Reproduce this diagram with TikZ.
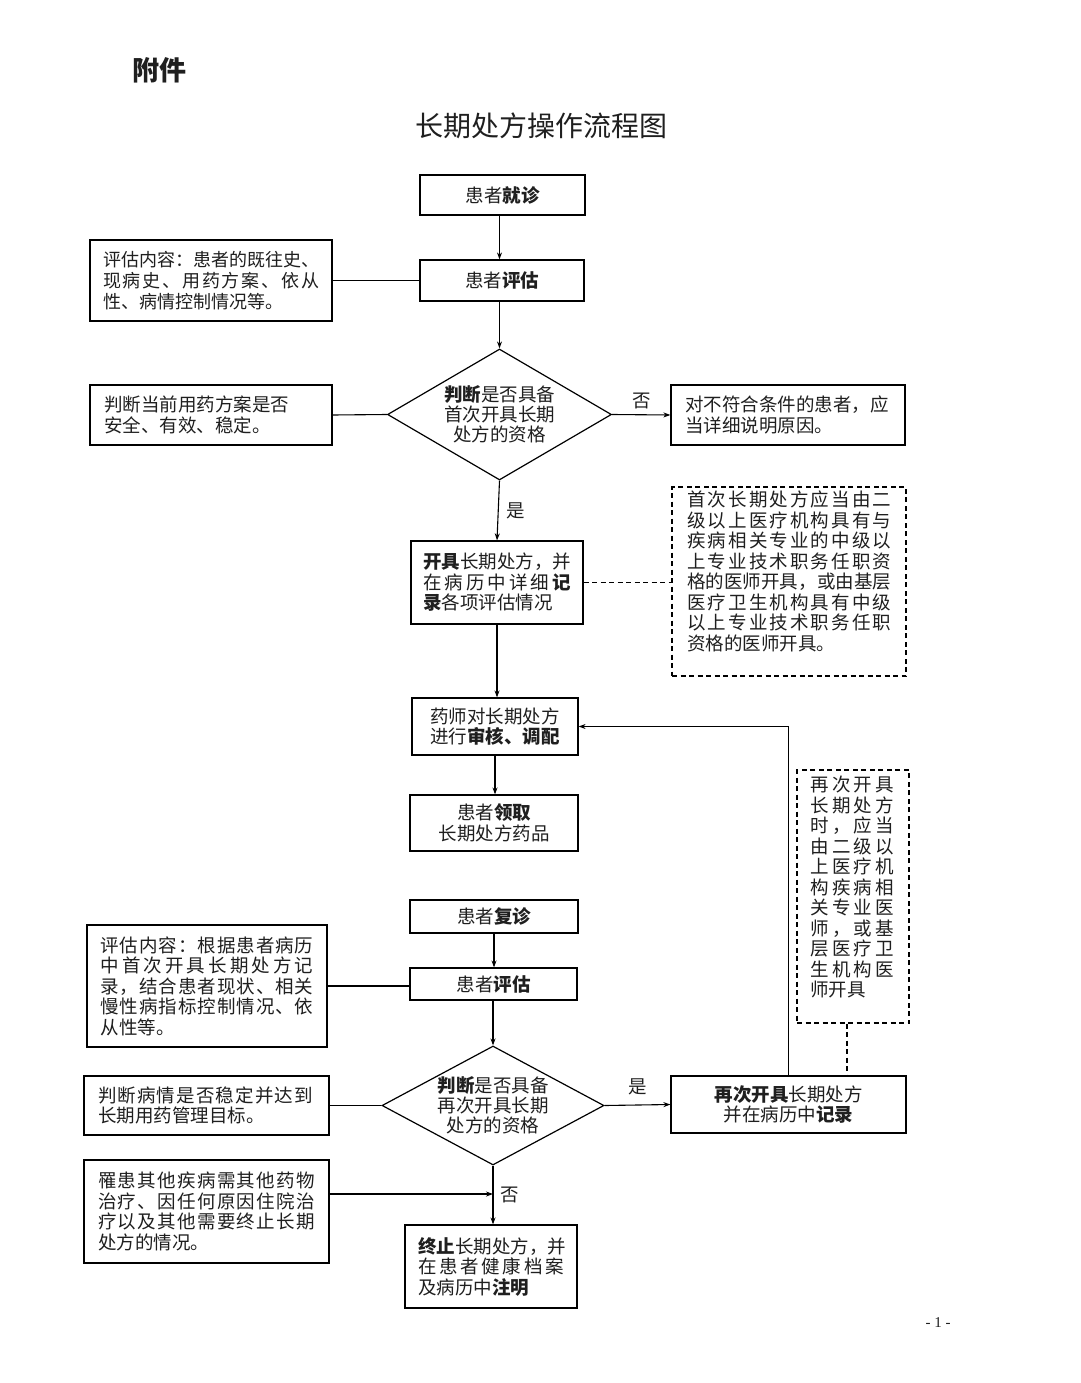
\documentclass[tikz,border=0pt]{standalone}
\usepackage{fontspec}
\setmainfont{Noto Sans CJK SC}
\newfontfamily\serifen{Liberation Serif}
\usetikzlibrary{shapes.geometric,arrows.meta}
\newcommand\spreadline[2]{\leavevmode\hbox to #1{\SpreadA#2\relax}}
\def\SpreadA#1{{#1}\SpreadB}
\def\SpreadB#1{\ifx\relax#1\else\hfil{#1}\expandafter\SpreadB\fi}
\tikzset{
  every node/.style={font=\fontsize{18.5}{20.5}\selectfont, text=black!88},
  box/.style={draw, line width=1.2pt, inner sep=0pt, align=center},
  lbox/.style={box, align=left},
  dbox/.style={draw, line width=1.2pt, inner sep=0pt, dash pattern=on 5pt off 3.5pt},
  dia/.style={diamond, draw, line width=1.2pt, inner sep=0pt},
  arr/.style={-{Stealth[length=7pt,width=5pt]}, line width=1.1pt},
  ln/.style={line width=1.1pt},
  dl/.style={line width=1.1pt, dash pattern=on 5pt off 3.5pt},
}
\begin{document}
\begin{tikzpicture}[x=1pt,y=-1pt]
\fill[white] (0,0) rectangle (1080,1383);
\useasboundingbox (0,0) rectangle (1080,1383);

\node[font=\fontsize{27}{30}\selectfont\bfseries, anchor=west] (att) at (129,70) {附件};
\node[font=\fontsize{28}{32}\selectfont] (title) at (541,126) {长期处方操作流程图};

% first part
\node[box, minimum width=165pt, minimum height=40pt] (b1) at (502.5,195) {患者{\bfseries 就诊}};
\node[box, minimum width=164pt, minimum height=41pt] (b2) at (502,280.5) {患者{\bfseries 评估}};
\node[lbox, minimum width=242pt, minimum height=81pt, text width=216pt,
      font=\fontsize{18}{21}\selectfont] (A) at (211,280.5)
  {\spreadline{216pt}{评估内容：患者的既往史、}\\\spreadline{216pt}{现病史、用药方案、依从}\\性、病情控制情况等。};
\node[dia, minimum width=224pt, minimum height=131pt] (d1) at (499.5,414.5) {};
\node[align=center, font=\fontsize{18.5}{20}\selectfont] (d1t) at (d1.center) {{\bfseries 判断}是否具备\\首次开具长期\\处方的资格};
\node[lbox, minimum width=242pt, minimum height=60pt, text width=214pt] (B) at (211,415)
  {判断当前用药方案是否\\安全、有效、稳定。};
\node[lbox, minimum width=234pt, minimum height=60pt, text width=206pt] (C) at (788,415)
  {对不符合条件的患者，应\\当详细说明原因。};
\node[lbox, minimum width=172pt, minimum height=83pt, text width=148pt] (D) at (497,582.5)
  {{\bfseries 开具}长期处方，并\\\spreadline{148pt}{在病历中详细{\bfseries 记}}\\{\bfseries 录}各项评估情况};
\node[dbox, minimum width=234pt, minimum height=189pt] (E) at (789,581.5) {};
\node[anchor=north west, align=left, inner sep=0pt, text width=204pt] (Et) at (687,491)
  {\spreadline{204pt}{首次长期处方应当由二}\\
   \spreadline{204pt}{级以上医疗机构具有与}\\
   \spreadline{204pt}{疾病相关专业的中级以}\\
   \spreadline{204pt}{上专业技术职务任职资}\\
   \spreadline{204pt}{格的医师开具，或由基层}\\
   \spreadline{204pt}{医疗卫生机构具有中级}\\
   \spreadline{204pt}{以上专业技术职务任职}\\
   资格的医师开具。};
\node[box, minimum width=166pt, minimum height=57pt] (F) at (495,726.5)
  {药师对长期处方\\进行{\bfseries 审核、调配}};
\node[box, minimum width=168pt, minimum height=56pt] (G) at (494,823)
  {患者{\bfseries 领取}\\长期处方药品};

% second part
\node[box, minimum width=168pt, minimum height=33pt] (H) at (494,916.5) {患者{\bfseries 复诊}};
\node[box, minimum width=167pt, minimum height=32pt] (I) at (493.5,984) {患者{\bfseries 评估}};
\node[lbox, minimum width=240pt, minimum height=122pt, text width=213pt] (J) at (207,986)
  {\spreadline{213pt}{评估内容：根据患者病历}\\
   \spreadline{213pt}{中首次开具长期处方记}\\
   \spreadline{213pt}{录，结合患者现状、相关}\\
   \spreadline{213pt}{慢性病指标控制情况、依}\\
   从性等。\\[8pt]};
\node[dia, minimum width=222pt, minimum height=119pt] (d2) at (493,1105.5) {};
\node[align=center, font=\fontsize{18.5}{20}\selectfont] (d2t) at (d2.center) {{\bfseries 判断}是否具备\\再次开具长期\\处方的资格};
\node[lbox, minimum width=245pt, minimum height=59pt, text width=217pt] (K) at (206.5,1105.5)
  {\spreadline{215pt}{判断病情是否稳定并达到}\\长期用药管理目标。};
\node[box, minimum width=235pt, minimum height=57pt] (L) at (788.5,1104.5)
  {{\bfseries 再次开具}长期处方\\并在病历中{\bfseries 记录}};
\node[dbox, minimum width=112pt, minimum height=253pt] (M) at (853,896.5) {};
\node[anchor=north west, align=left, inner sep=0pt, text width=84pt] (Mt) at (810,776)
  {\spreadline{84pt}{再次开具}\\
   \spreadline{84pt}{长期处方}\\
   \spreadline{84pt}{时，应当}\\
   \spreadline{84pt}{由二级以}\\
   \spreadline{84pt}{上医疗机}\\
   \spreadline{84pt}{构疾病相}\\
   \spreadline{84pt}{关专业医}\\
   \spreadline{84pt}{师，或基}\\
   \spreadline{84pt}{层医疗卫}\\
   \spreadline{84pt}{生机构医}\\
   师开具};
\node[lbox, minimum width=245pt, minimum height=103pt, text width=217pt] (N) at (206.5,1211.5)
  {\spreadline{217pt}{罹患其他疾病需其他药物}\\
   \spreadline{217pt}{治疗、因任何原因住院治}\\
   \spreadline{217pt}{疗以及其他需要终止长期}\\
   处方的情况。\\[10pt]};
\node[lbox, minimum width=172pt, minimum height=83pt, text width=146pt] (O) at (491,1266.5)
  {{\bfseries 终止}长期处方，并\\\spreadline{146pt}{在患者健康档案}\\及病历中{\bfseries 注明}};

\node[font=\fontsize{15}{17}\selectfont\serifen] (pg) at (938,1323) {- 1 -};

% connectors
\draw[arr] (d1.north |- b1.south) -- (d1.north |- b2.north);
\draw[ln] (A.east) -- (b2.west);
\draw[arr] (d1.north |- b2.south) -- (d1.north);
\draw[ln] (B.east) -- (d1.west);
\draw[arr] (d1.east) -- node[above=2pt] {否} (C.west);
\draw[arr] (d1.south) -- node[right=4pt] {是} (D.north);
\draw[dl] (D.east) -- (D.east -| E.west);
\draw[arr] (D.south) -- (D.south |- F.north);
\draw[arr] (F.south) -- (F.south |- G.north);
\draw[arr] (H.south) -- (H.south |- I.north);
\draw[ln] (J.east) -- (J.east -| I.west);
\draw[arr] (d2.north |- I.south) -- (d2.north);
\draw[ln] (K.east) -- (d2.west);
\draw[arr] (d2.east) -- node[above=6pt] {是} (L.west);
\draw[arr] (L.north) |- (F.east);
\coordinate (Mb) at ([xshift=-6pt]M.south);
\draw[dl] (Mb) -- (Mb |- L.north);
\coordinate (Na) at ([yshift=17.5pt]N.east);
\draw[arr] (Na) -- (Na -| d2.south);
\draw[arr] (d2.south) -- node[right=4pt] {否} (d2.south |- O.north);
\end{tikzpicture}
\end{document}
